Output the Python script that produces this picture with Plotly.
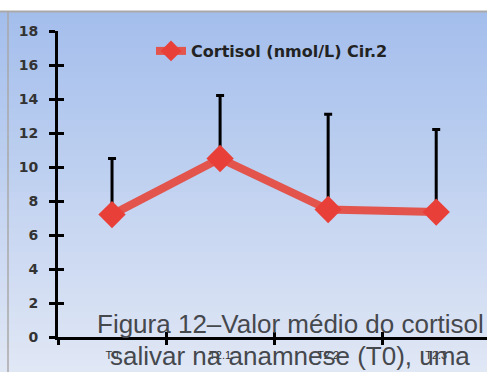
import plotly.graph_objects as go

# ---- data ----
categories = ["T0", "T2.1", "T2.2", "T2.3"]
cortisol_mean = [7.2, 10.5, 7.5, 7.35]
cortisol_upper = [10.5, 14.2, 13.1, 12.2]
y_ticks = [0, 2, 4, 6, 8, 10, 12, 14, 16, 18]
series_name = "Cortisol (nmol/L) Cir.2"
caption_1 = "Figura 12\u2013Valor médio do cortisol"
caption_2 = "salivar na anamnese (T0), uma"

# ---- geometry ----
W, H = 487, 372
L, R, T, B = 58, 0, 31, 35
pw, ph = W - L - R, H - T - B


def px(X):
    return (X - L) / pw


def py(Y):
    return (H - B - Y) / ph


shapes = []
# gradient background
top_c = (164, 190, 236)
bot_c = (224, 231, 245)
y0, y1 = 12, H
n = 60
for i in range(n):
    a = y0 + (y1 - y0) * i / n
    b = y0 + (y1 - y0) * (i + 1) / n + 0.6
    f = i / (n - 1)
    c = tuple(round(top_c[k] + (bot_c[k] - top_c[k]) * f) for k in range(3))
    shapes.append(dict(type="rect", xref="paper", yref="paper",
                       x0=px(0), x1=px(W), y0=py(b), y1=py(a),
                       fillcolor="rgb(%d,%d,%d)" % c, line=dict(width=0),
                       layer="below"))
shapes.append(dict(type="line", xref="paper", yref="paper", x0=px(0), x1=px(W),
                   y0=py(11.5), y1=py(11.5), line=dict(color="#a9a9a9", width=2),
                   layer="below"))
shapes.append(dict(type="line", xref="paper", yref="paper", x0=px(8), x1=px(8),
                   y0=py(12), y1=py(H), line=dict(color="#a9a9a9", width=1.5),
                   layer="below"))

fig = go.Figure()
fig.add_trace(go.Scatter(
    x=categories, y=cortisol_mean, name=series_name,
    mode="lines+markers",
    line=dict(color="rgb(226,84,76)", width=8),
    marker=dict(symbol="diamond", size=21, color="rgb(232,64,56)",
                line=dict(width=0)),
    error_y=dict(type="data", symmetric=False,
                 array=[u - m for u, m in zip(cortisol_upper, cortisol_mean)],
                 arrayminus=[0] * len(cortisol_mean),
                 color="black", thickness=3, width=4),
))
fig.add_trace(go.Scatter(x=[], y=[], xaxis="x2", yaxis="y2", showlegend=False))

fig.update_layout(
    width=W, height=H,
    margin=dict(l=L, r=R, t=T, b=B, pad=0),
    paper_bgcolor="white", plot_bgcolor="rgba(0,0,0,0)",
    shapes=shapes,
    showlegend=True,
    legend=dict(x=px(151), y=py(34), xanchor="left", yanchor="top",
                bgcolor="rgba(0,0,0,0)", borderwidth=0,
                font=dict(family="DejaVu Sans", size=16, color="#222222", weight="bold")),
    xaxis=dict(type="category", range=[-0.5, 3.47], tickson="boundaries",
               ticks="outside", ticklen=5, tickwidth=3, tickcolor="black",
               showline=True, linecolor="black", linewidth=3,
               showgrid=False, zeroline=False, ticklabelstandoff=6,
               tickfont=dict(family="Liberation Sans", size=11, color="#333333")),
    yaxis=dict(range=[0, 18], tickvals=y_ticks,
               ticks="outside", ticklen=6, tickwidth=3, tickcolor="black",
               showline=True, linecolor="black", linewidth=3,
               showgrid=False, zeroline=False, ticklabelstandoff=8,
               tickfont=dict(family="DejaVu Sans", size=14, color="#333333", weight="bold")),
    xaxis2=dict(overlaying="x", anchor="y", side="bottom", range=[-0.5, 3.47],
                tickvals=[-0.5, 0.5, 1.5, 2.5], ticks="inside", ticklen=5,
                tickwidth=3, tickcolor="black", showticklabels=False,
                showline=False, showgrid=False, zeroline=False),
    yaxis2=dict(overlaying="y", anchor="x", side="left", range=[0, 18],
                tickvals=y_ticks, ticks="inside", ticklen=6, tickwidth=3,
                tickcolor="black", showticklabels=False,
                showline=False, showgrid=False, zeroline=False),
    annotations=[
        dict(text=caption_1, xref="paper", yref="paper", x=px(290), y=py(324),
             xanchor="center", yanchor="middle", showarrow=False,
             font=dict(family="Liberation Sans", size=26, color="#45484d")),
        dict(text=caption_2, xref="paper", yref="paper", x=px(290), y=py(356),
             xanchor="center", yanchor="middle", showarrow=False,
             font=dict(family="Liberation Sans", size=26, color="#45484d")),
    ],
)

fig.write_html("out.html")
